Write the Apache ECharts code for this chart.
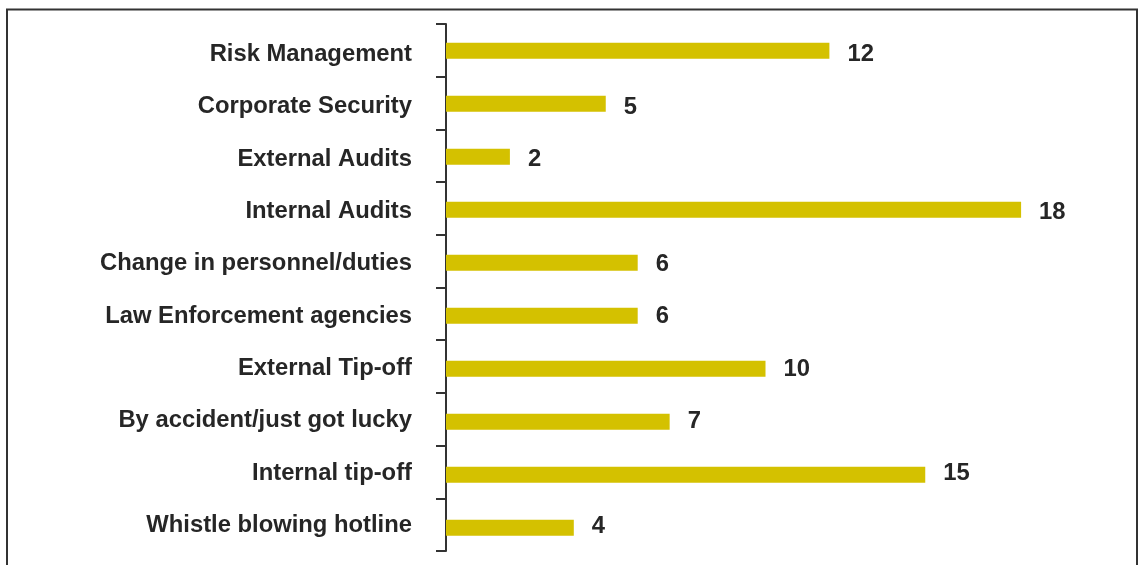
<!DOCTYPE html>
<html>
<head>
<meta charset="utf-8">
<script src="https://cdn.jsdelivr.net/npm/echarts@6/dist/echarts.min.js"></script>
<style>
html,body{margin:0;padding:0;background:#fff;}
#chart{width:1141px;height:565px;}
</style>
</head>
<body>
<div id="chart"></div>
<script>
const categories = [
  "Risk Management",
  "Corporate Security",
  "External Audits",
  "Internal Audits",
  "Change in personnel/duties",
  "Law Enforcement agencies",
  "External Tip-off",
  "By accident/just got lucky",
  "Internal tip-off",
  "Whistle blowing hotline"
];
const values = [12, 5, 2, 18, 6, 6, 10, 7, 15, 4];

const FONT = 'Liberation Sans, Arial, sans-serif';
const TEXT = '#262626';

const chart = echarts.init(document.getElementById('chart'));
chart.setOption({
  animation: false,
  backgroundColor: '#ffffff',
  graphic: [{
    type: 'polyline',
    silent: true,
    shape: { points: [[7, 570], [7, 9.5], [1137, 9.5], [1137, 570]] },
    style: { stroke: '#333333', lineWidth: 2, fill: null }
  }],
  grid: [
    { left: 446, right: 56, top: 24, bottom: 14 },      // axis line + ticks
    { left: 446, right: 56, top: 24.2, bottom: 10.8 },  // bars
    { left: 446, right: 56, top: 28.2, bottom: 13.2 }   // text labels
  ],
  xAxis: [0, 1, 2].map(i => ({
    type: 'value', gridIndex: i, min: 0, max: 20, show: false
  })),
  yAxis: [
    {
      type: 'category', gridIndex: 0, data: categories, inverse: true,
      axisLine: { show: true, lineStyle: { color: '#333333', width: 2 } },
      axisTick: { show: true, length: 10, lineStyle: { color: '#333333', width: 2 } },
      axisLabel: { show: false },
      splitLine: { show: false }
    },
    {
      type: 'category', gridIndex: 1, data: categories, inverse: true, show: false
    },
    {
      type: 'category', gridIndex: 2, data: categories, inverse: true,
      axisLine: { show: false },
      axisTick: { show: false },
      splitLine: { show: false },
      axisLabel: {
        color: TEXT,
        fontFamily: FONT,
        fontWeight: 'bold',
        fontSize: 23.8,
        margin: 34,
        padding: [3, 0, 0, 0]
      }
    }
  ],
  series: [
    {
      type: 'bar',
      xAxisIndex: 1, yAxisIndex: 1,
      data: values,
      barWidth: 16,
      itemStyle: { color: '#D4C100' },
      label: { show: false }
    },
    {
      type: 'bar',
      xAxisIndex: 2, yAxisIndex: 2,
      data: values,
      barWidth: 16,
      silent: true,
      itemStyle: { color: 'rgba(0,0,0,0)' },
      label: {
        show: true,
        position: 'right',
        distance: 18,
        offset: [0, 0.5],
        color: TEXT,
        fontFamily: FONT,
        fontWeight: 'bold',
        fontSize: 23.8
      }
    }
  ]
});
</script>
</body>
</html>
